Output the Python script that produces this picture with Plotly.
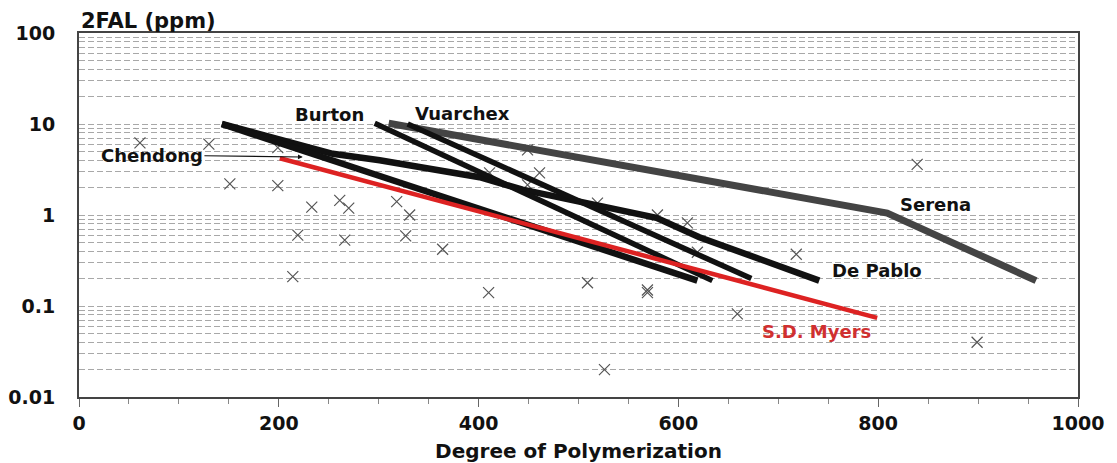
import plotly.graph_objects as go

# ---- data ----
y_tick_vals = [0.01, 0.1, 1, 10, 100]
y_tick_text = ["0.01", "0.1", "1", "10", "100"]
x_tick_vals = [0, 200, 400, 600, 800, 1000]
x_tick_text = ["0", "200", "400", "600", "800", "1000"]

cross_x = [61, 130, 199, 151, 199, 233, 261, 270, 318, 331, 219, 266, 327, 364, 214,
           410, 411, 461, 449, 449, 519, 579, 609, 619, 718, 509, 569, 569, 659, 839, 899, 526]
cross_y = [6.2, 6.0, 5.5, 2.2, 2.1, 1.22, 1.45, 1.19, 1.4, 1.0, 0.60, 0.53, 0.59, 0.42, 0.21,
           0.14, 2.9, 2.9, 5.2, 2.14, 1.35, 1.0, 0.82, 0.39, 0.37, 0.18, 0.15, 0.14, 0.082, 3.6, 0.040, 0.020]

serena_x = [310, 809, 958]
serena_y = [10.2, 1.05, 0.19]

depablo_x = [143, 254, 301, 401, 444, 534, 578, 621, 741]
depablo_y = [10, 4.7, 4.0, 2.6, 1.9, 1.19, 0.93, 0.57, 0.19]

chendong_x = [143, 619]
chendong_y = [10, 0.19]

burton_x = [296, 634]
burton_y = [10.2, 0.19]

vuarchex_x = [329, 673]
vuarchex_y = [10, 0.20]

myers_x = [201, 799]
myers_y = [4.2, 0.074]

FONT = "DejaVu Sans"

fig = go.Figure()

fig.add_trace(go.Scatter(
    x=cross_x, y=cross_y, mode="markers",
    marker=dict(symbol="x-thin", size=11, line=dict(width=1.2, color="#555555")),
    showlegend=False, hoverinfo="skip"))

def add_line(xs, ys, color, width):
    fig.add_trace(go.Scatter(x=xs, y=ys, mode="lines",
                             line=dict(color=color, width=width),
                             showlegend=False, hoverinfo="skip"))

add_line(serena_x, serena_y, "#444444", 7)
add_line(depablo_x, depablo_y, "#111111", 6.5)
add_line(chendong_x, chendong_y, "#111111", 6.5)
add_line(burton_x, burton_y, "#111111", 5.5)
add_line(vuarchex_x, vuarchex_y, "#111111", 5.5)
add_line(myers_x, myers_y, "#dd2222", 4.5)

lab_font = dict(family=FONT, size=18, color="#111111")

def label(text, x, y_log, **kw):
    fig.add_annotation(x=x, y=y_log, xref="x", yref="y", text="<b>%s</b>" % text,
                       showarrow=False, font=kw.pop("font", lab_font), **kw)

label("Burton", 251, 1.10)
label("Vuarchex", 384, 1.12)
label("Serena", 857, 0.11)
label("De Pablo", 799, -0.615)
label("S.D. Myers", 738, -1.275, font=dict(family=FONT, size=18, color="#d03030"))

fig.add_annotation(x=224, y=0.637, xref="x", yref="y",
                   ax=73, ay=0.659, axref="x", ayref="y",
                   text="<b>Chendong</b>", font=lab_font,
                   showarrow=True, arrowhead=2, arrowsize=0.8, arrowwidth=1.2,
                   arrowcolor="#111111")

fig.add_annotation(x=0, y=1, xref="paper", yref="paper", xanchor="left", yanchor="bottom",
                   yshift=-2, text="<b>2FAL (ppm)</b>", showarrow=False,
                   font=dict(family=FONT, size=21, color="#111111"))

fig.update_layout(
    width=1117, height=463,
    margin=dict(l=79, r=39, t=33, b=66),
    paper_bgcolor="white", plot_bgcolor="white",
    font=dict(family=FONT, color="#111111"),
)

fig.update_xaxes(
    range=[0, 1000], tickvals=x_tick_vals, ticktext=["<b>%s</b>" % t for t in x_tick_text],
    automargin=False,
    tickfont=dict(family=FONT, size=19, color="#111111"),
    ticks="outside", ticklen=8, tickcolor="#666666", tickwidth=1,
    minor=dict(dtick=50, ticks="outside", ticklen=5, tickcolor="#888888", showgrid=False),
    showgrid=False, zeroline=False,
    showline=True, linecolor="#444444", linewidth=2, mirror=True,
    title=dict(text="<b>Degree of Polymerization</b>", font=dict(family=FONT, size=20, color="#111111"),
               standoff=12),
)

fig.update_yaxes(
    type="log", range=[-2, 2], automargin=False,
    tickvals=y_tick_vals, ticktext=["<b>%s</b>" % t for t in y_tick_text],
    tickfont=dict(family=FONT, size=19, color="#111111"),
    ticks="", ticklabelstandoff=18,
    showgrid=True, gridcolor="#a8a8a8", gridwidth=1, griddash="6px,3px",
    minor=dict(dtick="D1", showgrid=True, gridcolor="#a8a8a8", gridwidth=1, griddash="6px,3px", ticks=""),
    zeroline=False,
    showline=True, linecolor="#444444", linewidth=2, mirror=True,
)

fig.write_html("out.html")
